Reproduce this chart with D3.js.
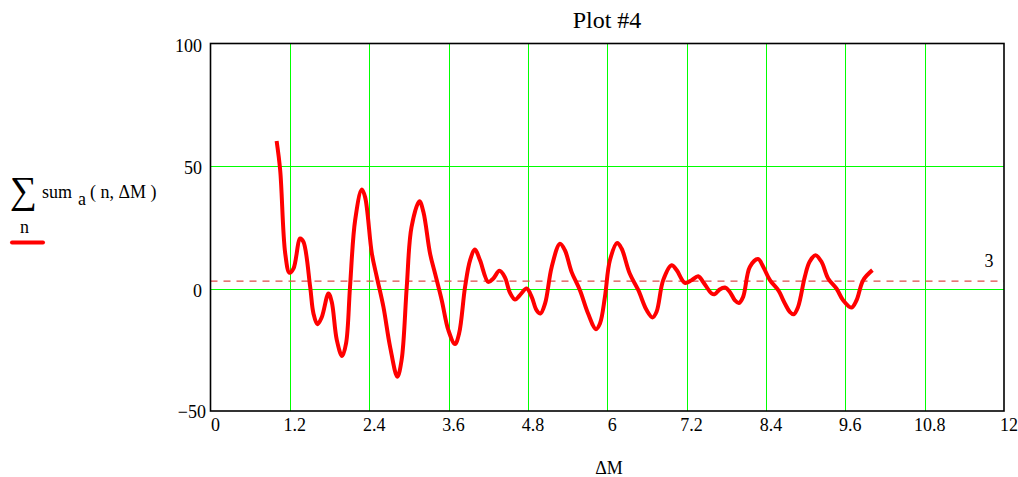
<!DOCTYPE html>
<html>
<head>
<meta charset="utf-8">
<script src="https://cdn.jsdelivr.net/npm/d3@7"></script>
<style>
  body { margin: 0; background: #fff; }
  svg { display: block; font-family: "Liberation Serif", "Times New Roman", serif; }
</style>
</head>
<body>
<svg id="chart" width="1018" height="477"></svg>
<script>
// ---- data ----
const dM = [1.0, 1.054, 1.13, 1.194, 1.255, 1.356, 1.406, 1.507, 1.557, 1.617, 1.684, 1.784, 1.834, 1.91, 1.99, 2.05, 2.11, 2.187, 2.288, 2.338, 2.44, 2.515, 2.615, 2.716, 2.826, 2.89, 2.968, 3.04, 3.16, 3.22, 3.32, 3.396, 3.497, 3.597, 3.698, 3.76, 3.85, 3.925, 4.0, 4.076, 4.2, 4.277, 4.37, 4.45, 4.53, 4.605, 4.68, 4.78, 4.857, 4.93, 4.99, 5.06, 5.16, 5.285, 5.36, 5.46, 5.587, 5.71, 5.83, 5.89, 5.965, 6.04, 6.15, 6.217, 6.34, 6.47, 6.595, 6.686, 6.746, 6.846, 6.973, 7.05, 7.174, 7.275, 7.375, 7.45, 7.577, 7.627, 7.70, 7.78, 7.854, 7.93, 7.99, 8.055, 8.156, 8.28, 8.36, 8.46, 8.585, 8.686, 8.76, 8.82, 8.886, 8.987, 9.06, 9.15, 9.24, 9.34, 9.466, 9.567, 9.69, 9.77, 9.87, 10.01];
const sumA = [60.2, 48.2, 14.3, 6.4, 8.1, 20.4, 19.0, 0.7, -10.2, -14.6, -11.6, -2.0, -5.5, -21.0, -27.6, -22.4, 0.7, 27.8, 40.4, 37.3, 14.3, 4.7, -7.5, -23.8, -36.0, -29.2, 0.7, 25.1, 35.6, 31.2, 14.3, 6.1, -4.8, -17.0, -22.7, -18.3, 0.7, 11.5, 15.9, 11.5, 2.7, 4.1, 7.2, 4.7, -1.8, -4.5, -2.7, 0.0, -3.4, -8.8, -10.2, -6.1, 8.8, 18.3, 15.6, 6.8, -0.7, -10.2, -16.6, -14.3, -3.4, 11.5, 18.6, 16.3, 6.1, -0.7, -8.8, -11.8, -9.5, 3.4, 9.5, 7.5, 2.3, 3.4, 5.0, 2.7, -2.0, -2.3, -0.4, 0.4, -1.4, -4.8, -5.9, -3.4, 8.8, 12.0, 8.8, 3.4, -0.7, -6.1, -9.5, -10.5, -7.5, 4.7, 10.9, 13.6, 10.9, 4.1, 0.0, -4.8, -7.8, -4.8, 3.4, 7.5];
const xTicks = [0, 1.2, 2.4, 3.6, 4.8, 6, 7.2, 8.4, 9.6, 10.8, 12];
const xTickLabels = ["0", "1.2", "2.4", "3.6", "4.8", "6", "7.2", "8.4", "9.6", "10.8", "12"];
const yTicks = [-50, 0, 50, 100];
const yTickLabels = ["\u221250", "0", "50", "100"];
const markerValue = 3;

(function () {
// ---- layout ----
const svg = d3.select("#chart");
const pLeft = 210.5, pRight = 1004, pTop = 43.5, pBottom = 411;
const x = d3.scaleLinear().domain([0, 12]).range([pLeft, pRight]);
const y = d3.scaleLinear().domain([-50, 100]).range([pBottom, pTop]);

// grid
const grid = svg.append("g").attr("shape-rendering", "crispEdges");
grid.selectAll("line.v").data(xTicks.slice(1, -1)).join("line")
  .attr("x1", d => Math.round(x(d)) + 0.5).attr("x2", d => Math.round(x(d)) + 0.5)
  .attr("y1", pTop).attr("y2", pBottom)
  .attr("stroke", "#00ff00").attr("stroke-width", 1.2);
grid.selectAll("line.h").data(yTicks.slice(1, -1)).join("line")
  .attr("x1", pLeft).attr("x2", pRight)
  .attr("y1", d => Math.round(y(d)) + 0.5).attr("y2", d => Math.round(y(d)) + 0.5)
  .attr("stroke", "#00ff00").attr("stroke-width", 1.2);

// marker line at 3
svg.append("line")
  .attr("x1", pLeft).attr("x2", pRight)
  .attr("y1", y(markerValue)).attr("y2", y(markerValue))
  .attr("stroke", "#e04848").attr("stroke-width", 1.2)
  .attr("stroke-dasharray", "7,6");
svg.append("text").attr("x", 989).attr("y", 267)
  .attr("text-anchor", "middle").attr("font-size", 18).text(String(markerValue));

// curve
const line = d3.line().x((d, i) => x(dM[i])).y(d => y(d)).curve(d3.curveCatmullRom.alpha(0.5));
svg.append("path").datum(sumA)
  .attr("d", line).attr("fill", "none")
  .attr("stroke", "#ff0000").attr("stroke-width", 4)
  .attr("stroke-linejoin", "round").attr("stroke-linecap", "butt");

// frame
svg.append("rect").attr("x", pLeft).attr("y", pTop)
  .attr("width", pRight - pLeft).attr("height", pBottom - pTop)
  .attr("fill", "none").attr("stroke", "#000").attr("stroke-width", 1.6);

// axes (labels only, using d3 axes)
const xAxis = d3.axisBottom(x).tickValues(xTicks)
  .tickFormat((d, i) => xTickLabels[i]).tickSize(0).tickPadding(0);
const gx = svg.append("g").attr("transform", `translate(4.5,${pBottom})`).call(xAxis);
gx.select(".domain").remove();
gx.selectAll("text").attr("dy", null).attr("y", 20).attr("font-size", 18)
  .attr("font-family", "Liberation Serif, serif").attr("fill", "#000");

const yAxis = d3.axisLeft(y).tickValues(yTicks)
  .tickFormat((d, i) => yTickLabels[i]).tickSize(0).tickPadding(0);
const gy = svg.append("g").attr("transform", `translate(202,0)`).call(yAxis);
gy.select(".domain").remove();
gy.selectAll("text").attr("dy", "0.32em").attr("font-size", 18)
  .attr("font-family", "Liberation Serif, serif").attr("fill", "#000")
  .attr("x", d => d === -50 ? 4 : 0).attr("y", d => d === -50 ? 1 : 2);

// title
svg.append("text").attr("x", 607).attr("y", 28).attr("text-anchor", "middle")
  .attr("font-size", 24).text("Plot #4");

// x label
svg.append("text").attr("x", 609).attr("y", 474).attr("text-anchor", "middle")
  .attr("font-size", 18).text("\u0394M");

// y label (MathCad style)
const yl = svg.append("g");
yl.append("text").attr("x", 10).attr("y", 203).attr("font-size", 38).text("\u2211");
yl.append("text").attr("x", 42).attr("y", 198).attr("font-size", 18).text("sum");
yl.append("text").attr("x", 78).attr("y", 205).attr("font-size", 18).text("a");
yl.append("text").attr("x", 90).attr("y", 198).attr("font-size", 18).text("( n, \u0394M )");
yl.append("text").attr("x", 20).attr("y", 233).attr("font-size", 18).text("n");
yl.append("line").attr("x1", 12).attr("x2", 43).attr("y1", 242.5).attr("y2", 242.5)
  .attr("stroke", "#ff0000").attr("stroke-width", 4).attr("stroke-linecap", "round");
})();
</script>
</body>
</html>
